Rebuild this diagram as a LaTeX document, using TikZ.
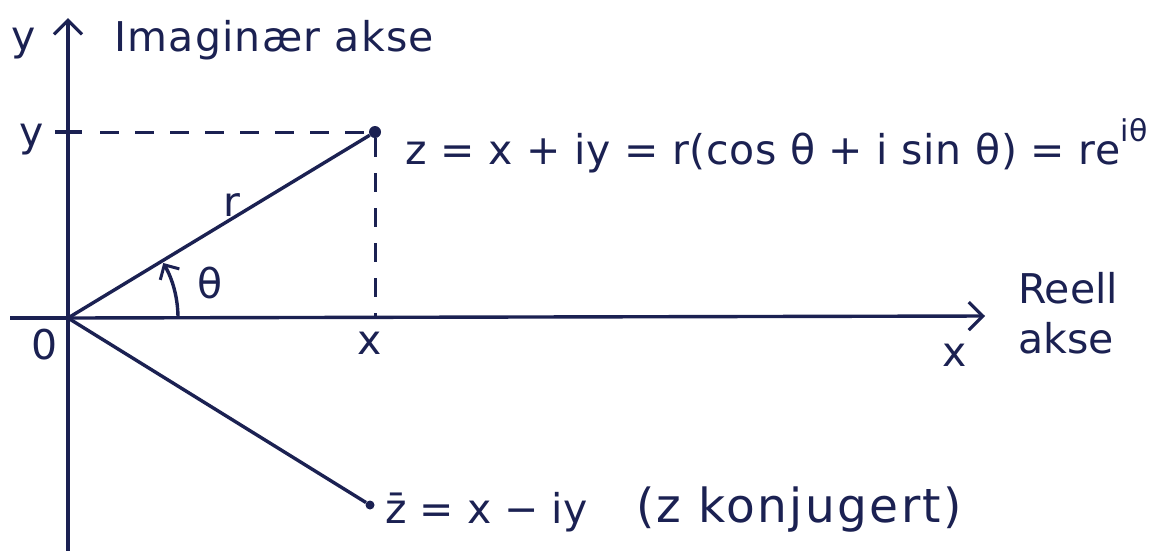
\documentclass[tikz,border=0pt]{standalone}
\usepackage{fontspec}
\setmainfont{DejaVu Sans}
\usetikzlibrary{arrows.meta}
\definecolor{ink}{HTML}{1B2152}
\begin{document}
\begin{tikzpicture}[x=1pt,y=-1pt,
  line/.style={draw=ink,line width=3.4pt},
  dashline/.style={draw=ink,line width=3pt,dash pattern=on 19pt off 16pt},
  axisarrow/.style={line,-{Straight Barb[length=14pt,width=28pt,line width=3.2pt]}},
  lbl/.style={text=ink,font=\fontsize{41}{50}\selectfont,inner sep=0pt},
  dot/.style={circle,fill=ink,inner sep=0pt,minimum size=12pt}]
\useasboundingbox[fill=white] (0,0) rectangle (1153,550);
% coordinates
\coordinate (O) at (68,318);
\coordinate (ytop) at (68,18);
\coordinate (ybot) at (68,552);
\coordinate (xleft) at (10,318);
\coordinate (xright) at (985,316);
\coordinate (ytick) at (55,132);
\coordinate (xfoot) at (375,318);
\node[dot] (Z) at (375,132) {};
\node[dot,minimum size=9pt] (Zb) at (370,505) {};
% axes
\draw[line] (O) -- (ybot);
\draw[axisarrow] (O) -- (ytop);
\draw[line] (O) -- (xleft);
\draw[axisarrow] (O) -- (xright);
% dashed
\draw[line] (ytick) -- (82,132);
\draw[dashline] (100,132) -- (Z);
\draw[dashline] (Z) -- (xfoot);
% vectors
\draw[line] (O) -- (Z);
\draw[line] (O) -- (Zb);
% angle arc
\draw[line,-{Straight Barb[length=11pt,width=22pt,line width=3pt]}] (178,318) arc[start angle=0,end angle=-30,radius=110];
% labels
\node[lbl,anchor=west] (lim) at (114,40) {\addfontfeature{LetterSpace=3}Imaginær akse};
\node[lbl] (ly) at (24,44) {y};
\node[lbl] (ly2) at (32,140) {y};
\node[lbl] (l0) at (45,345) {0};
\node[lbl] (lx) at (370,343) {x};
\node[lbl] (lx2) at (955,355) {x};
\node[lbl] (lr) at (232,205) {r};
\node[lbl] (lth) at (210,283) {θ};
\node[lbl,anchor=north west,align=left] (lre) at (1018,272) {Reell\\akse};
\node[lbl,anchor=west] (lz) at (405,146) {\addfontfeature{LetterSpace=1.5}z = x + iy = r(cos θ + i sin θ) = re\raisebox{0.55em}{\fontsize{30}{32}\selectfont iθ}};
\node[lbl,anchor=west] (lzb) at (385,512) {z̄ = x − iy};
\node[lbl,anchor=west,font=\fontsize{47}{52}\selectfont] (lzk) at (636,510) {\addfontfeature{LetterSpace=5}(z konjugert)};
\end{tikzpicture}
\end{document}
